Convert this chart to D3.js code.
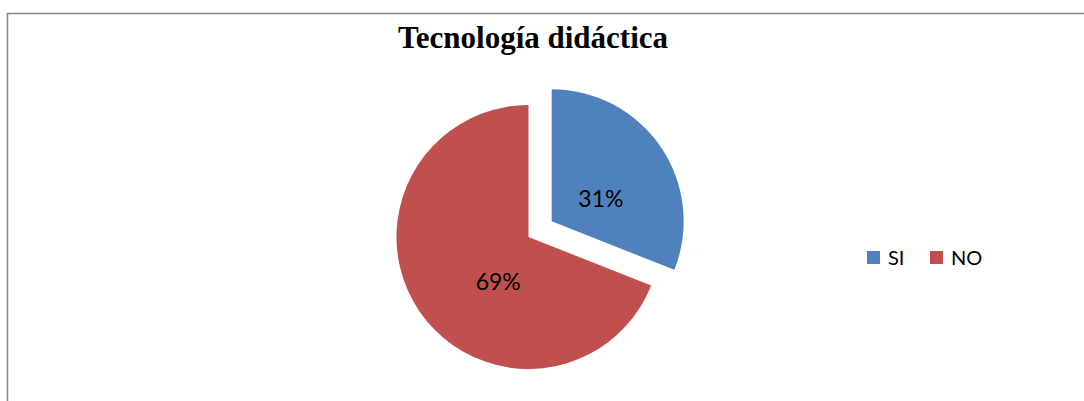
<!DOCTYPE html>
<html>
<head>
<meta charset="utf-8">
<script src="https://cdn.jsdelivr.net/npm/d3@7"></script>
<style>
  body { margin: 0; background: #fff; }
  svg { display: block; }
</style>
</head>
<body>
<svg id="chart" width="1084" height="401"></svg>
<script>
// chart data
let title = "Tecnología didáctica";
let categories = ["SI", "NO"];
let values = [31, 69];
let colors = ["#4F81BD", "#C0504D"];

let svg = d3.select("#chart"),
    width = +svg.attr("width"),
    height = +svg.attr("height");

// frame of the chart area (runs off the right and bottom edge)
svg.append("rect")
    .attr("x", 7.5)
    .attr("y", 13.5)
    .attr("width", 1100)
    .attr("height", 420)
    .attr("fill", "none")
    .attr("stroke", "#868686")
    .attr("stroke-width", 1.5);

svg.append("text")
    .attr("x", 533)
    .attr("y", 48)
    .attr("text-anchor", "middle")
    .style("font-family", "'Liberation Serif', 'Times New Roman', serif")
    .style("font-weight", "bold")
    .style("font-size", "31px")
    .text(title);

let cx = 528.5, cy = 237, radius = 132;
let explode = [28, 0];      // pull-out of each slice
let labelNudge = [0.17, 0.38]; // rotation of labels off the bisector (rad)

let pie = d3.pie().sort(null).value(function(d) { return d; });
let arcs = pie(values);
let arc = d3.arc().innerRadius(0).outerRadius(radius);

let g = svg.append("g")
    .attr("transform", "translate(" + cx + "," + cy + ")");

let slice = g.selectAll("g.slice")
    .data(arcs)
    .enter().append("g")
    .attr("class", "slice")
    .attr("transform", function(d, i) {
        let a = (d.startAngle + d.endAngle) / 2;
        return "translate(" + (Math.sin(a) * explode[i]) + "," + (-Math.cos(a) * explode[i]) + ")";
    });

slice.append("path")
    .attr("d", arc)
    .attr("fill", function(d, i) { return colors[i]; });

slice.append("text")
    .attr("transform", function(d, i) {
        let a = (d.startAngle + d.endAngle) / 2 + (i == 0 ? labelNudge[0] : -labelNudge[1]);
        let r = radius * 0.41;
        return "translate(" + (Math.sin(a) * r) + "," + (-Math.cos(a) * r) + ")";
    })
    .attr("text-anchor", "middle")
    .attr("dy", "0.36em")
    .style("font-family", "Lato, 'Open Sans', sans-serif")
    .style("font-size", "23px")
    .style("fill", "#000")
    .text(function(d) {
        let total = d3.sum(values);
        return Math.round(d.value / total * 100) + "%";
    });

// legend
let legendX = [867, 930];
let legend = svg.append("g").selectAll("g")
    .data(categories)
    .enter().append("g")
    .attr("transform", function(d, i) { return "translate(" + legendX[i] + ",251)"; });

legend.append("rect")
    .attr("width", 13)
    .attr("height", 13)
    .attr("fill", function(d, i) { return colors[i]; });

legend.append("text")
    .attr("x", 21)
    .attr("y", 13.5)
    .style("font-family", "Lato, 'Open Sans', sans-serif")
    .style("font-size", "20px")
    .text(function(d) { return d; });
</script>
</body>
</html>
